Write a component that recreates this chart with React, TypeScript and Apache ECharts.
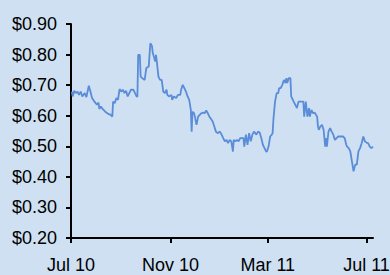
import React, { useEffect, useRef } from "react";
import * as echarts from "echarts";

const dates: string[] = [
  "2010-07-02","2010-07-03","2010-07-05","2010-07-07","2010-07-09","2010-07-11","2010-07-13","2010-07-15","2010-07-18","2010-07-20",
  "2010-07-23","2010-07-25","2010-07-27","2010-07-30","2010-08-02","2010-08-04","2010-08-05","2010-08-07","2010-08-09","2010-08-12",
  "2010-08-14","2010-08-16","2010-08-19","2010-08-21","2010-08-22","2010-08-24","2010-08-26","2010-08-28","2010-08-30","2010-09-01",
  "2010-09-03","2010-09-05","2010-09-07","2010-09-09","2010-09-11","2010-09-13","2010-09-16","2010-09-20","2010-09-21","2010-09-22",
  "2010-09-24","2010-09-25","2010-09-27","2010-09-30","2010-10-02","2010-10-05","2010-10-07","2010-10-09","2010-10-10","2010-10-12",
  "2010-10-13","2010-10-14","2010-10-15","2010-10-17","2010-10-19","2010-10-21","2010-10-23","2010-10-25","2010-10-27","2010-10-28",
  "2010-10-30","2010-11-02","2010-11-03","2010-11-05","2010-11-08","2010-11-10","2010-11-13","2010-11-14","2010-11-16","2010-11-18",
  "2010-11-20","2010-11-22","2010-11-24","2010-11-26","2010-11-27","2010-11-28","2010-11-30","2010-12-01","2010-12-03","2010-12-05",
  "2010-12-07","2010-12-09","2010-12-11","2010-12-13","2010-12-15","2010-12-17","2010-12-19","2010-12-21","2010-12-23","2010-12-25",
  "2010-12-27","2010-12-29","2011-01-01","2011-01-03","2011-01-05","2011-01-07","2011-01-09","2011-01-11","2011-01-13","2011-01-15",
  "2011-01-17","2011-01-18","2011-01-20","2011-01-22","2011-01-24","2011-01-26","2011-01-28","2011-01-30","2011-01-31","2011-02-02",
  "2011-02-04","2011-02-06","2011-02-08","2011-02-10","2011-02-12","2011-02-15","2011-02-17","2011-02-19","2011-02-21","2011-02-23",
  "2011-02-25","2011-02-27","2011-02-28","2011-03-02","2011-03-04","2011-03-06","2011-03-07","2011-03-08","2011-03-10","2011-03-12",
  "2011-03-14","2011-03-15","2011-03-17","2011-03-19","2011-03-21","2011-03-23","2011-03-24","2011-03-25","2011-03-27","2011-03-29",
  "2011-03-30","2011-04-02","2011-04-04","2011-04-06","2011-04-08","2011-04-12","2011-04-14","2011-04-15","2011-04-17","2011-04-19",
  "2011-04-21","2011-04-22","2011-04-24","2011-04-26","2011-04-28","2011-05-01","2011-05-02","2011-05-03","2011-05-05","2011-05-07",
  "2011-05-09","2011-05-11","2011-05-12","2011-05-13","2011-05-15","2011-05-17","2011-05-19","2011-05-21","2011-05-23","2011-05-25",
  "2011-05-27","2011-05-31","2011-06-02","2011-06-04","2011-06-06","2011-06-07","2011-06-09","2011-06-11","2011-06-13","2011-06-15",
  "2011-06-17","2011-06-19","2011-06-21","2011-06-23","2011-06-25","2011-06-27","2011-06-29","2011-07-01","2011-07-03","2011-07-05",
  "2011-07-07","2011-07-09",
];

const prices: number[] = [
  0.679,0.663,0.682,0.674,0.679,0.668,0.679,0.663,0.674,0.661,
  0.698,0.679,0.658,0.646,0.636,0.643,0.622,0.630,0.622,0.614,
  0.610,0.606,0.603,0.597,0.646,0.641,0.658,0.652,0.687,0.679,
  0.685,0.674,0.682,0.663,0.674,0.685,0.685,0.663,0.662,0.799,
  0.799,0.728,0.723,0.717,0.756,0.761,0.837,0.828,0.805,0.788,
  0.777,0.799,0.777,0.728,0.717,0.717,0.679,0.674,0.685,0.668,
  0.663,0.668,0.652,0.663,0.658,0.668,0.668,0.685,0.701,0.690,
  0.679,0.663,0.652,0.619,0.548,0.613,0.608,0.597,0.570,0.597,
  0.603,0.608,0.610,0.608,0.617,0.608,0.597,0.589,0.581,0.565,
  0.548,0.543,0.548,0.538,0.527,0.516,0.521,0.510,0.521,0.516,
  0.483,0.521,0.516,0.521,0.516,0.527,0.527,0.527,0.499,0.538,
  0.505,0.543,0.516,0.538,0.548,0.538,0.548,0.545,0.527,0.505,
  0.494,0.483,0.483,0.499,0.532,0.538,0.543,0.587,0.646,0.674,
  0.674,0.690,0.690,0.701,0.717,0.707,0.723,0.707,0.723,0.723,
  0.663,0.646,0.636,0.625,0.646,0.646,0.646,0.597,0.646,0.597,
  0.625,0.597,0.619,0.608,0.610,0.597,0.565,0.554,0.565,0.570,
  0.554,0.499,0.527,0.499,0.548,0.559,0.548,0.538,0.521,0.527,
  0.532,0.532,0.532,0.527,0.505,0.499,0.494,0.483,0.450,0.418,
  0.440,0.440,0.483,0.494,0.510,0.532,0.516,0.512,0.510,0.499,
  0.494,0.499,
];

const xTickDates: string[] = ["2010-07-01", "2010-11-01", "2011-03-01", "2011-07-01"];
const xTickLabels: string[] = ["Jul 10", "Nov 10", "Mar 11", "Jul 11"];
const xStart = "2010-07-01";
const xEnd = "2011-07-09";
const yMin = 0.2;
const yMax = 0.9;
const yStep = 0.1;

function ts(s: string): number {
  const [y, m, d] = s.split("-").map(Number);
  return new Date(y, m - 1, d).getTime();
}

export default function App() {
  const ref = useRef<HTMLDivElement>(null);
  useEffect(() => {
    if (!ref.current) return;
    const chart = echarts.init(ref.current, undefined, { renderer: "svg" });
    const tickTs = xTickDates.map(ts);
    const font = "'Liberation Sans', Arial, sans-serif";
    chart.setOption({
      animation: false,
      backgroundColor: "#cee0f2",
      grid: { left: 71, right: 17, top: 24, bottom: 37, containLabel: false, outerBoundsMode: "none" },
      xAxis: {
        type: "value",
        min: ts(xStart),
        max: ts(xEnd),
        splitLine: { show: false },
        axisLine: { show: true, lineStyle: { color: "#000", width: 2 } },
        axisTick: { show: true, customValues: tickTs, length: 5, lineStyle: { color: "#000", width: 2 } },
        axisLabel: {
          customValues: tickTs,
          margin: 18,
          color: "#000",
          fontSize: 18,
          fontFamily: font,
          showMinLabel: true,
          showMaxLabel: true,
          formatter: (v: number) => {
            const i = tickTs.findIndex((t) => Math.abs(t - v) < 3600000 * 12);
            return i >= 0 ? xTickLabels[i] : "";
          },
        },
      },
      yAxis: {
        type: "value",
        min: yMin,
        max: yMax,
        interval: yStep,
        splitLine: { show: false },
        axisLine: { show: true, lineStyle: { color: "#000", width: 2 } },
        axisTick: { show: true, length: 5, lineStyle: { color: "#000", width: 2 } },
        axisLabel: {
          margin: 14,
          color: "#000",
          fontSize: 18,
          fontFamily: font,
          formatter: (v: number) => "$" + v.toFixed(2),
        },
      },
      series: [
        {
          type: "line",
          data: dates.map((d, i) => [ts(d), prices[i]]),
          showSymbol: false,
          symbol: "none",
          lineStyle: { color: "#5a8cd8", width: 1.8 },
        },
      ],
    });
    return () => chart.dispose();
  }, []);
  return (
    <div
      ref={ref}
      style={{ position: "fixed", left: 0, top: 0, width: 390, height: 275, background: "#cee0f2" }}
    />
  );
}
